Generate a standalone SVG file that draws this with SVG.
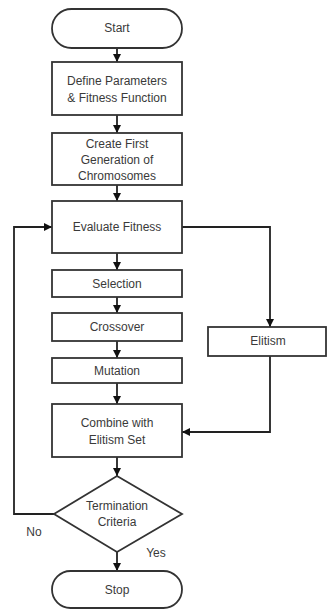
<svg xmlns="http://www.w3.org/2000/svg" width="328" height="610" viewBox="0 0 328 610">
  <style>
    .shape { fill: #ffffff; stroke: #333333; stroke-width: 1.8; }
    .label { font-family: "Liberation Sans", Arial, sans-serif; font-size: 12px; fill: #3a3a3a; text-anchor: middle; }
    .edge { fill: none; stroke: #222222; stroke-width: 1.8; }
  </style>
  <defs>
    <marker id="arrow" viewBox="0 0 10 10" refX="10" refY="5" markerWidth="9" markerHeight="8" orient="auto" markerUnits="userSpaceOnUse">
      <path d="M0,0 L10,5 L0,10 z" fill="#111111"/>
    </marker>
  </defs>
  <rect width="328" height="610" fill="#ffffff"/>

  <g id="connectors">
    <path class="edge" d="M117,48 V62" marker-end="url(#arrow)"/>
    <path class="edge" d="M117,115 V133" marker-end="url(#arrow)"/>
    <path class="edge" d="M117,185 V201" marker-end="url(#arrow)"/>
    <path class="edge" d="M117,253 V270" marker-end="url(#arrow)"/>
    <path class="edge" d="M117,297 V313" marker-end="url(#arrow)"/>
    <path class="edge" d="M117,341 V358" marker-end="url(#arrow)"/>
    <path class="edge" d="M117,383 V404" marker-end="url(#arrow)"/>
    <path class="edge" d="M117,457 V476" marker-end="url(#arrow)"/>
    <path class="edge" d="M117,552 V571" marker-end="url(#arrow)"/>
    <path class="edge" d="M54,514 H14 V227 H52" marker-end="url(#arrow)"/>
    <path class="edge" d="M182,227 H270 V327" marker-end="url(#arrow)"/>
    <path class="edge" d="M270,356 V432 H182" marker-end="url(#arrow)"/>
    <text class="label" x="34" y="536">No</text>
    <text class="label" x="156" y="557">Yes</text>
  </g>

  <g id="start">
    <rect class="shape" x="52" y="9" width="130" height="39" rx="19.5"/>
    <text class="label" x="117" y="32">Start</text>
  </g>

  <g id="define">
    <rect class="shape" x="52" y="62" width="130" height="53"/>
    <text class="label" x="117" y="85">Define Parameters</text>
    <text class="label" x="117" y="102">&amp; Fitness Function</text>
  </g>

  <g id="create">
    <rect class="shape" x="52" y="133" width="130" height="52"/>
    <text class="label" x="117" y="148">Create First</text>
    <text class="label" x="117" y="164">Generation of</text>
    <text class="label" x="117" y="180">Chromosomes</text>
  </g>

  <g id="evaluate">
    <rect class="shape" x="52" y="201" width="130" height="52"/>
    <text class="label" x="117" y="231">Evaluate Fitness</text>
  </g>

  <g id="selection">
    <rect class="shape" x="52" y="270" width="130" height="27"/>
    <text class="label" x="117" y="288">Selection</text>
  </g>

  <g id="crossover">
    <rect class="shape" x="52" y="313" width="130" height="28"/>
    <text class="label" x="117" y="331">Crossover</text>
  </g>

  <g id="mutation">
    <rect class="shape" x="52" y="358" width="130" height="25"/>
    <text class="label" x="117" y="375">Mutation</text>
  </g>

  <g id="elitism">
    <rect class="shape" x="208" y="327" width="118" height="29"/>
    <text class="label" x="268" y="345">Elitism</text>
  </g>

  <g id="combine">
    <rect class="shape" x="52" y="404" width="130" height="53"/>
    <text class="label" x="117" y="427">Combine with</text>
    <text class="label" x="117" y="444">Elitism Set</text>
  </g>

  <g id="termination">
    <polygon class="shape" points="117,476 182,514 117,552 54,514"/>
    <text class="label" x="117" y="510">Termination</text>
    <text class="label" x="117" y="526">Criteria</text>
  </g>

  <g id="stop">
    <rect class="shape" x="52" y="571" width="130" height="37" rx="18.5"/>
    <text class="label" x="117" y="594">Stop</text>
  </g>
</svg>
